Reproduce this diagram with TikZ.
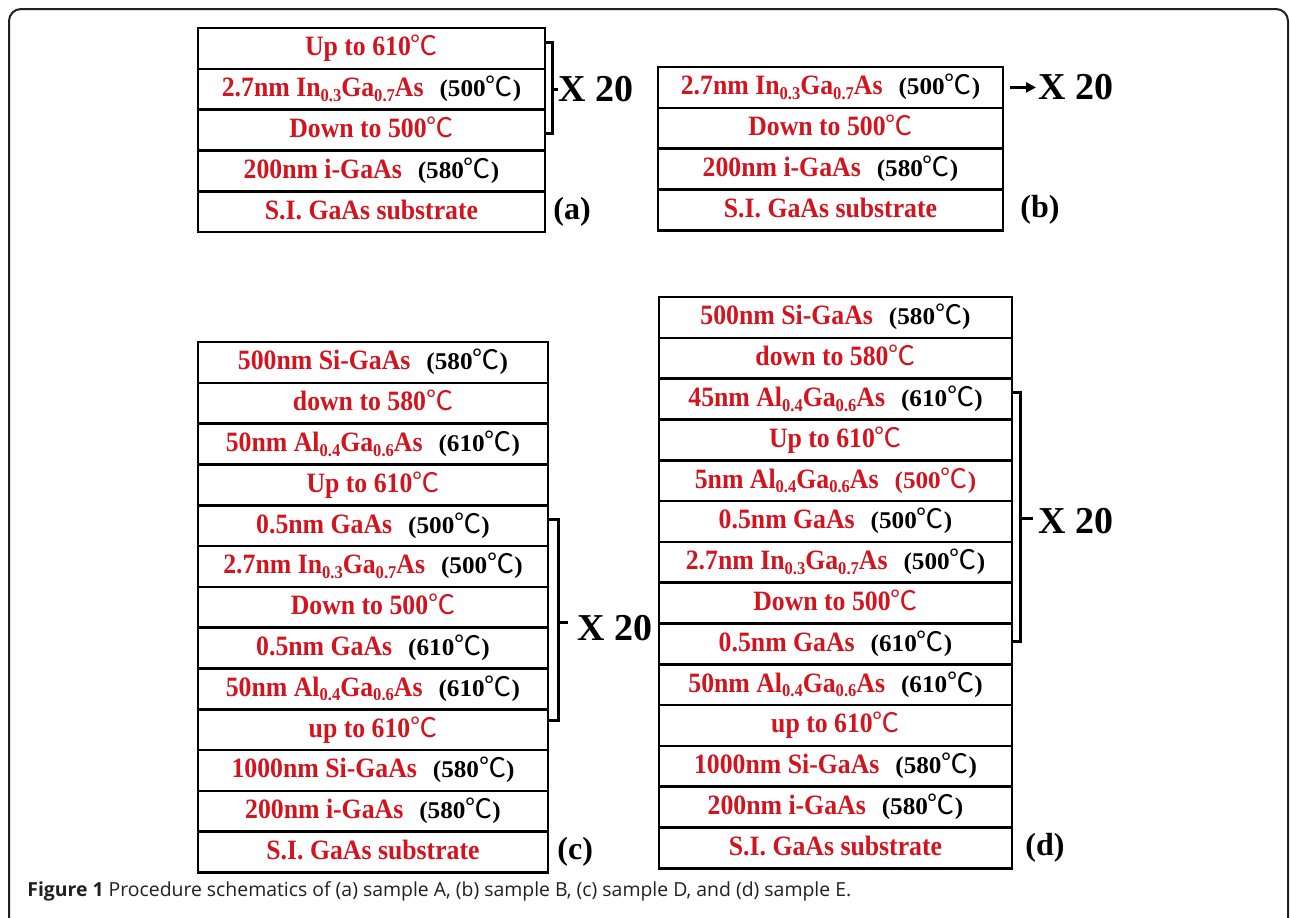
\documentclass[tikz,border=0pt]{standalone}
\usepackage{fontspec}
\setmainfont{Liberation Serif}
\newfontfamily\cjk{Noto Sans CJK SC}
\newfontfamily\capfont{Open Sans}
\newfontfamily\layfont[FakeStretch=0.92]{Liberation Serif}
\newfontfamily\tempfont[FakeStretch=1.05]{Liberation Serif}
\usepackage{xcolor}
\usetikzlibrary{arrows.meta, positioning}
\definecolor{LayerRed}{RGB}{210, 20, 30}
\definecolor{CapGray}{RGB}{35, 31, 32}
\newcommand{\degc}{{\cjk\mdseries\fontsize{13.5}{14}\selectfont ℃}}
\newcommand{\lsub}[1]{\raisebox{-0.35ex}{\fontsize{9}{9}\selectfont #1}}
\newcommand{\tc}[1]{\hspace{8pt}{\color{black}\tempfont\bfseries\fontsize{12}{12}\selectfont (#1\degc)}}
\newcommand{\tcred}[1]{\hspace{8pt}{\tempfont\bfseries\fontsize{12}{12}\selectfont (#1\degc)}}
\tikzset{
  lay/.style={rectangle, draw=black, line width=1.3pt, outer sep=0pt,
    inner sep=0pt, minimum height=20.4pt, text height=10pt,
    text depth=2.5pt, text=LayerRed,
    font=\layfont\bfseries\fontsize{14}{15}\selectfont},
  wa/.style={lay, minimum width=173.5pt},
  wb/.style={lay, minimum width=172.5pt},
  wc/.style={lay, minimum width=175pt},
  wd/.style={lay, minimum width=176.5pt},
  brk/.style={line width=1.5pt, color=black},
  arr/.style={-{Triangle[length=5pt, width=5pt]}, line width=1.5pt, color=black},
  rep/.style={inner sep=0pt, font=\bfseries\fontsize{19}{21}\selectfont},
  lbl/.style={inner sep=0pt, font=\bfseries\fontsize{16}{18}\selectfont},
  frame/.style={line width=1pt, color=CapGray, rounded corners=6pt},
}
\begin{document}
\begin{tikzpicture}[x=0.5pt, y=-0.5pt]
  \useasboundingbox (0,0) rectangle (1290,917);
  \draw[frame] (9,940) -- (9,9) -- (1288,9) -- (1288,940);

  % (a) sample A
  \node[wa, anchor=north west] (a1) at (198,28) {Up to 610\degc};
  \node[wa, below=0pt of a1] (a2) {2.7nm In\lsub{0.3}Ga\lsub{0.7}As\tc{500}};
  \node[wa, below=0pt of a2] (a3) {Down to 500\degc};
  \node[wa, below=0pt of a3] (a4) {200nm i-GaAs\tc{580}};
  \node[wa, below=0pt of a4] (a5) {S.I. GaAs substrate};
  \node[rep, right=6.5pt of a2] (xa) {X 20};
  \node[lbl, right=4pt of a5] (la) {(a)};
  \draw[brk] ([yshift=3pt]a1.east) -| ([xshift=3.5pt,yshift=-1.5pt]a3.east)
    -- ([yshift=-1.5pt]a3.east);
  \draw[brk] ([xshift=3.5pt]a2.east) -- (xa.west);

  % (b) sample B
  \node[wb, anchor=north west] (b1) at (658,67)
    {2.7nm In\lsub{0.3}Ga\lsub{0.7}As\tc{500}};
  \node[wb, below=0pt of b1] (b2) {Down to 500\degc};
  \node[wb, below=0pt of b2] (b3) {200nm i-GaAs\tc{580}};
  \node[wb, below=0pt of b3] (b4) {S.I. GaAs substrate};
  \node[rep, right=17.5pt of b1] (xb) {X 20};
  \node[lbl, right=8.5pt of b4] (lb) {(b)};
  \draw[arr] ([xshift=3.5pt]b1.east) -- ([xshift=-1pt]xb.west);

  % (c) sample D
  \node[wc, anchor=north west] (c1) at (198,342) {500nm Si-GaAs\tc{580}};
  \node[wc, below=0pt of c1] (c2) {down to 580\degc};
  \node[wc, below=0pt of c2] (c3) {50nm Al\lsub{0.4}Ga\lsub{0.6}As\tc{610}};
  \node[wc, below=0pt of c3] (c4) {Up to 610\degc};
  \node[wc, below=0pt of c4] (c5) {0.5nm GaAs\tc{500}};
  \node[wc, below=0pt of c5] (c6) {2.7nm In\lsub{0.3}Ga\lsub{0.7}As\tc{500}};
  \node[wc, below=0pt of c6] (c7) {Down to 500\degc};
  \node[wc, below=0pt of c7] (c8) {0.5nm GaAs\tc{610}};
  \node[wc, below=0pt of c8] (c9) {50nm Al\lsub{0.4}Ga\lsub{0.6}As\tc{610}};
  \node[wc, below=0pt of c9] (c10) {up to 610\degc};
  \node[wc, below=0pt of c10] (c11) {1000nm Si-GaAs\tc{580}};
  \node[wc, below=0pt of c11] (c12) {200nm i-GaAs\tc{580}};
  \node[wc, below=0pt of c12] (c13) {S.I. GaAs substrate};
  \node[rep, right=14.5pt of c7.south east] (xc) {X 20};
  \node[lbl, right=4.5pt of c13] (lc) {(c)};
  \draw[brk] ([yshift=3pt]c5.east) -| ([xshift=5pt,yshift=-5.5pt]c10.north east)
    -- ([yshift=-5.5pt]c10.north east);
  \draw[brk] ([xshift=5pt,yshift=2.5pt]c7.south east) -- ++(10,0);

  % (d) sample E
  \node[wd, anchor=north west] (d1) at (659,297) {500nm Si-GaAs\tc{580}};
  \node[wd, below=0pt of d1] (d2) {down to 580\degc};
  \node[wd, below=0pt of d2] (d3) {45nm Al\lsub{0.4}Ga\lsub{0.6}As\tc{610}};
  \node[wd, below=0pt of d3] (d4) {Up to 610\degc};
  \node[wd, below=0pt of d4] (d5) {5nm Al\lsub{0.4}Ga\lsub{0.6}As\tcred{500}};
  \node[wd, below=0pt of d5] (d6) {0.5nm GaAs\tc{500}};
  \node[wd, below=0pt of d6] (d7) {2.7nm In\lsub{0.3}Ga\lsub{0.7}As\tc{500}};
  \node[wd, below=0pt of d7] (d8) {Down to 500\degc};
  \node[wd, below=0pt of d8] (d9) {0.5nm GaAs\tc{610}};
  \node[wd, below=0pt of d9] (d10) {50nm Al\lsub{0.4}Ga\lsub{0.6}As\tc{610}};
  \node[wd, below=0pt of d10] (d11) {up to 610\degc};
  \node[wd, below=0pt of d11] (d12) {1000nm Si-GaAs\tc{580}};
  \node[wd, below=0pt of d12] (d13) {200nm i-GaAs\tc{580}};
  \node[wd, below=0pt of d13] (d14) {S.I. GaAs substrate};
  \node[rep, right=13pt of d6] (xd) {X 20};
  \node[lbl, right=6.5pt of d14] (ld) {(d)};
  \draw[brk] ([yshift=3.5pt]d3.east) -| ([xshift=4pt,yshift=1pt]d9.east)
    -- ([yshift=1pt]d9.east);
  \draw[brk] ([xshift=4pt,yshift=1.5pt]d6.east) -- ++(13,0);

  % caption
  \node[anchor=base west, inner sep=0pt, text=CapGray,
    font=\capfont\fontsize{9.7}{11}\selectfont] (cap) at (27,896)
    {\textbf{Figure 1} Procedure schematics of (a) sample A, (b) sample B,
     (c) sample D, and (d) sample E.};
\end{tikzpicture}
\end{document}
